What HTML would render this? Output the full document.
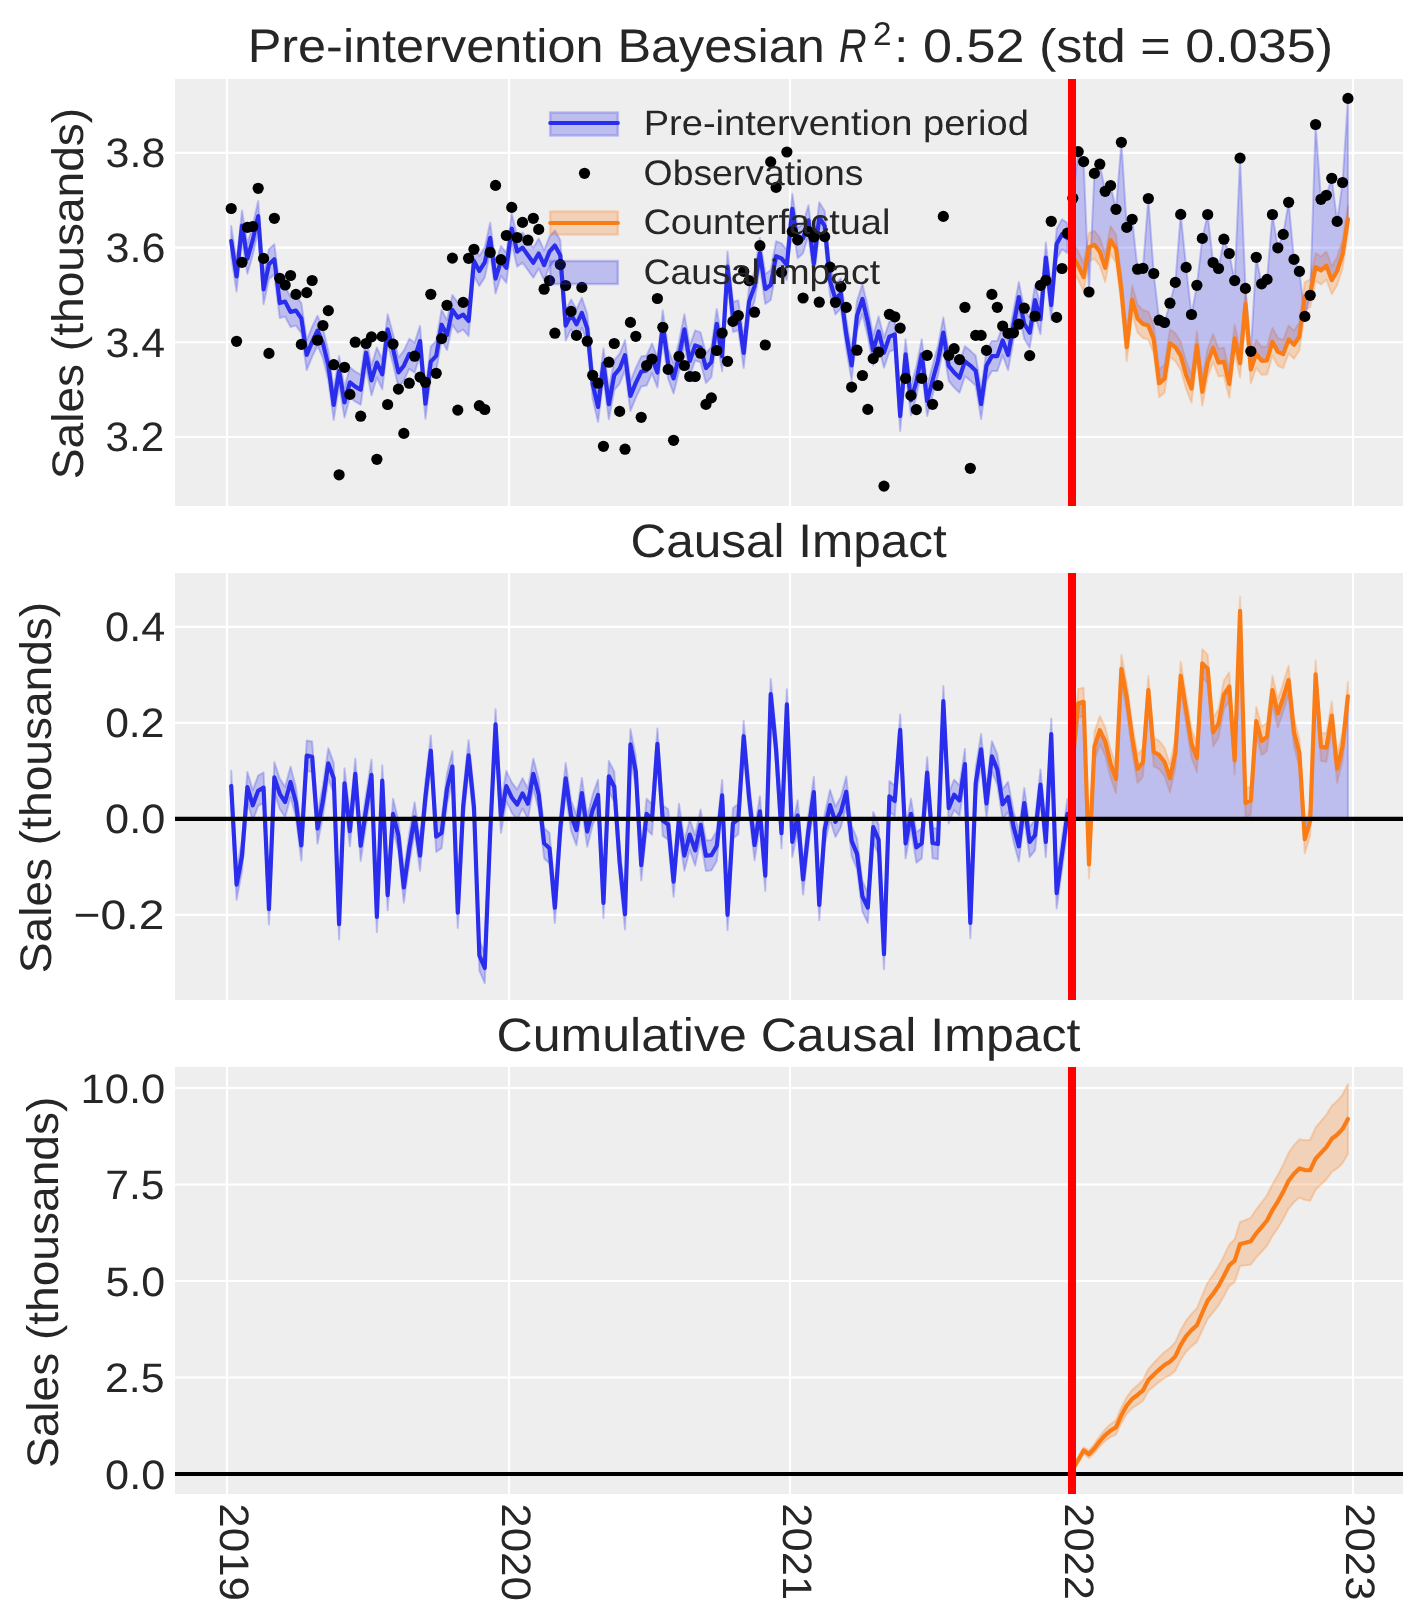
<!DOCTYPE html>
<html><head><meta charset="utf-8"><style>
html,body{margin:0;padding:0;background:#fff;overflow:hidden}
svg{display:block;text-rendering:geometricPrecision;will-change:transform}
</style></head><body>
<svg width="1423" height="1623" viewBox="0 0 1423 1623">
<rect width="1423" height="1623" fill="#ffffff"/>
<rect x="175" y="79" width="1228" height="427" fill="#eeeeee"/>
<line x1="227.0" y1="79" x2="227.0" y2="506" stroke="#fff" stroke-width="2.2"/>
<line x1="509.0" y1="79" x2="509.0" y2="506" stroke="#fff" stroke-width="2.2"/>
<line x1="790.0" y1="79" x2="790.0" y2="506" stroke="#fff" stroke-width="2.2"/>
<line x1="1072.0" y1="79" x2="1072.0" y2="506" stroke="#fff" stroke-width="2.2"/>
<line x1="1353.0" y1="79" x2="1353.0" y2="506" stroke="#fff" stroke-width="2.2"/>
<line x1="175" y1="436.99" x2="1403" y2="436.99" stroke="#fff" stroke-width="2.2"/>
<line x1="175" y1="342.26" x2="1403" y2="342.26" stroke="#fff" stroke-width="2.2"/>
<line x1="175" y1="247.53" x2="1403" y2="247.53" stroke="#fff" stroke-width="2.2"/>
<line x1="175" y1="152.80" x2="1403" y2="152.80" stroke="#fff" stroke-width="2.2"/>
<rect x="175" y="573" width="1228" height="427" fill="#eeeeee"/>
<line x1="227.0" y1="573" x2="227.0" y2="1000" stroke="#fff" stroke-width="2.2"/>
<line x1="509.0" y1="573" x2="509.0" y2="1000" stroke="#fff" stroke-width="2.2"/>
<line x1="790.0" y1="573" x2="790.0" y2="1000" stroke="#fff" stroke-width="2.2"/>
<line x1="1072.0" y1="573" x2="1072.0" y2="1000" stroke="#fff" stroke-width="2.2"/>
<line x1="1353.0" y1="573" x2="1353.0" y2="1000" stroke="#fff" stroke-width="2.2"/>
<line x1="175" y1="914.90" x2="1403" y2="914.90" stroke="#fff" stroke-width="2.2"/>
<line x1="175" y1="818.90" x2="1403" y2="818.90" stroke="#fff" stroke-width="2.2"/>
<line x1="175" y1="722.90" x2="1403" y2="722.90" stroke="#fff" stroke-width="2.2"/>
<line x1="175" y1="626.90" x2="1403" y2="626.90" stroke="#fff" stroke-width="2.2"/>
<rect x="175" y="1067" width="1228" height="427" fill="#eeeeee"/>
<line x1="227.0" y1="1067" x2="227.0" y2="1494" stroke="#fff" stroke-width="2.2"/>
<line x1="509.0" y1="1067" x2="509.0" y2="1494" stroke="#fff" stroke-width="2.2"/>
<line x1="790.0" y1="1067" x2="790.0" y2="1494" stroke="#fff" stroke-width="2.2"/>
<line x1="1072.0" y1="1067" x2="1072.0" y2="1494" stroke="#fff" stroke-width="2.2"/>
<line x1="1353.0" y1="1067" x2="1353.0" y2="1494" stroke="#fff" stroke-width="2.2"/>
<line x1="175" y1="1474.00" x2="1403" y2="1474.00" stroke="#fff" stroke-width="2.2"/>
<line x1="175" y1="1377.50" x2="1403" y2="1377.50" stroke="#fff" stroke-width="2.2"/>
<line x1="175" y1="1281.00" x2="1403" y2="1281.00" stroke="#fff" stroke-width="2.2"/>
<line x1="175" y1="1184.50" x2="1403" y2="1184.50" stroke="#fff" stroke-width="2.2"/>
<line x1="175" y1="1088.00" x2="1403" y2="1088.00" stroke="#fff" stroke-width="2.2"/>
<path d="M231.20,226.00 L236.59,261.50 L241.99,210.50 L247.38,243.80 L252.78,224.90 L258.18,201.10 L263.57,274.30 L268.96,249.30 L274.36,244.30 L279.75,288.10 L285.15,286.60 L290.54,297.00 L295.94,295.60 L301.33,303.20 L306.73,340.00 L312.12,326.80 L317.52,315.70 L322.91,328.20 L328.31,350.40 L333.70,389.90 L339.10,355.90 L344.50,387.40 L349.89,367.30 L355.28,371.60 L360.68,374.70 L366.07,337.70 L371.47,365.40 L376.87,347.60 L382.26,359.30 L387.65,314.30 L393.05,334.00 L398.44,357.40 L403.84,350.70 L409.24,338.90 L414.63,342.60 L420.02,325.90 L425.42,388.70 L430.81,346.60 L436.21,340.80 L441.60,309.70 L447.00,320.10 L452.39,294.90 L457.79,302.60 L463.18,299.60 L468.58,306.00 L473.97,245.90 L479.37,255.90 L484.76,247.40 L490.16,222.80 L495.55,263.60 L500.95,245.90 L506.34,252.80 L511.74,213.50 L517.13,236.60 L522.53,232.60 L527.92,240.20 L533.32,247.70 L538.71,238.50 L544.11,250.20 L549.50,236.60 L554.90,230.50 L560.29,240.30 L565.69,310.60 L571.09,299.50 L576.48,309.30 L581.88,297.80 L587.27,313.70 L592.66,369.10 L598.06,391.90 L603.45,348.50 L608.85,389.30 L614.24,360.20 L619.64,353.70 L625.03,340.10 L630.43,380.90 L635.82,367.90 L641.22,356.60 L646.62,355.50 L652.01,343.40 L657.40,357.60 L662.80,310.60 L668.19,348.90 L673.59,363.40 L678.98,341.40 L684.38,314.30 L689.77,346.00 L695.17,330.40 L700.56,332.40 L705.96,353.00 L711.36,347.10 L716.75,308.90 L722.14,341.30 L727.54,251.50 L732.93,302.00 L738.33,300.30 L743.72,338.00 L749.12,286.40 L754.51,271.40 L759.91,238.10 L765.30,274.00 L770.70,270.00 L776.10,241.20 L781.49,243.40 L786.88,250.00 L792.28,193.80 L797.67,228.30 L803.07,223.30 L808.46,205.30 L813.86,248.50 L819.25,202.30 L824.65,211.00 L830.04,265.80 L835.44,284.40 L840.84,278.50 L846.23,319.20 L851.62,350.40 L857.02,300.70 L862.41,284.00 L867.81,306.80 L873.20,335.50 L878.60,316.50 L883.99,337.70 L889.39,321.60 L894.78,319.50 L900.18,401.00 L905.58,339.30 L910.97,385.40 L916.37,366.50 L921.76,339.30 L927.15,386.10 L932.55,365.50 L937.94,345.70 L943.34,317.60 L948.73,350.90 L954.13,357.50 L959.52,362.70 L964.92,346.30 L970.31,350.60 L975.71,355.80 L981.11,389.10 L986.50,350.60 L991.89,341.10 L997.29,341.10 L1002.68,325.40 L1008.08,340.00 L1013.47,310.40 L1018.87,282.10 L1024.26,308.80 L1029.66,317.80 L1035.05,285.10 L1040.45,304.20 L1045.85,242.60 L1051.24,290.10 L1056.63,229.10 L1062.03,219.20 L1067.42,223.10 L1067.42,253.10 L1062.03,249.20 L1056.63,259.10 L1051.24,320.10 L1045.85,272.60 L1040.45,334.20 L1035.05,315.10 L1029.66,347.80 L1024.26,338.80 L1018.87,312.10 L1013.47,340.40 L1008.08,370.00 L1002.68,355.40 L997.29,371.10 L991.89,371.10 L986.50,380.60 L981.11,419.10 L975.71,385.80 L970.31,380.60 L964.92,376.30 L959.52,392.70 L954.13,387.50 L948.73,380.90 L943.34,347.60 L937.94,375.70 L932.55,395.50 L927.15,416.10 L921.76,369.30 L916.37,396.50 L910.97,415.40 L905.58,369.30 L900.18,431.00 L894.78,349.50 L889.39,351.60 L883.99,367.70 L878.60,346.50 L873.20,365.50 L867.81,336.80 L862.41,314.00 L857.02,330.70 L851.62,380.40 L846.23,349.20 L840.84,308.50 L835.44,314.40 L830.04,295.80 L824.65,241.00 L819.25,232.30 L813.86,278.50 L808.46,235.30 L803.07,253.30 L797.67,258.30 L792.28,223.80 L786.88,280.00 L781.49,273.40 L776.10,271.20 L770.70,300.00 L765.30,304.00 L759.91,268.10 L754.51,301.40 L749.12,316.40 L743.72,368.00 L738.33,330.30 L732.93,332.00 L727.54,281.50 L722.14,371.30 L716.75,338.90 L711.36,377.10 L705.96,383.00 L700.56,362.40 L695.17,360.40 L689.77,376.00 L684.38,344.30 L678.98,371.40 L673.59,393.40 L668.19,378.90 L662.80,340.60 L657.40,387.60 L652.01,373.40 L646.62,385.50 L641.22,386.60 L635.82,397.90 L630.43,410.90 L625.03,370.10 L619.64,383.70 L614.24,390.20 L608.85,419.30 L603.45,378.50 L598.06,421.90 L592.66,399.10 L587.27,343.70 L581.88,327.80 L576.48,339.30 L571.09,329.50 L565.69,340.60 L560.29,270.30 L554.90,260.50 L549.50,266.60 L544.11,280.20 L538.71,268.50 L533.32,277.70 L527.92,270.20 L522.53,262.60 L517.13,266.60 L511.74,243.50 L506.34,282.80 L500.95,275.90 L495.55,293.60 L490.16,252.80 L484.76,277.40 L479.37,285.90 L473.97,275.90 L468.58,336.00 L463.18,329.60 L457.79,332.60 L452.39,324.90 L447.00,350.10 L441.60,339.70 L436.21,370.80 L430.81,376.60 L425.42,418.70 L420.02,355.90 L414.63,372.60 L409.24,368.90 L403.84,380.70 L398.44,387.40 L393.05,364.00 L387.65,344.30 L382.26,389.30 L376.87,377.60 L371.47,395.40 L366.07,367.70 L360.68,404.70 L355.28,401.60 L349.89,397.30 L344.50,417.40 L339.10,385.90 L333.70,419.90 L328.31,380.40 L322.91,358.20 L317.52,345.70 L312.12,356.80 L306.73,370.00 L301.33,333.20 L295.94,325.60 L290.54,327.00 L285.15,316.60 L279.75,318.10 L274.36,274.30 L268.96,279.30 L263.57,304.30 L258.18,231.10 L252.78,254.90 L247.38,273.80 L241.99,240.50 L236.59,291.50 L231.20,256.00 Z" fill="#2a2eec" fill-opacity="0.25" stroke="#2a2eec" stroke-opacity="0.25" stroke-width="2" stroke-linejoin="round"/>
<path d="M1072.82,242.30 L1078.21,251.70 L1083.61,263.10 L1089.00,233.10 L1094.40,230.80 L1099.79,237.70 L1105.19,253.90 L1110.58,226.10 L1115.98,234.60 L1121.38,276.30 L1126.77,333.20 L1132.16,285.80 L1137.56,304.60 L1142.95,310.00 L1148.35,311.60 L1153.74,325.40 L1159.14,369.30 L1164.53,364.70 L1169.93,329.30 L1175.32,333.10 L1180.72,341.70 L1186.12,360.90 L1191.51,374.70 L1196.90,331.40 L1202.30,377.80 L1207.69,348.60 L1213.09,333.90 L1218.48,348.60 L1223.88,347.70 L1229.27,370.10 L1234.67,324.40 L1240.06,349.40 L1245.46,289.90 L1250.86,355.50 L1256.25,339.90 L1261.64,346.80 L1267.04,346.40 L1272.43,327.70 L1277.83,337.80 L1283.22,340.10 L1288.62,325.40 L1294.01,330.80 L1299.41,322.30 L1304.81,282.30 L1310.20,279.20 L1315.60,253.10 L1320.99,256.40 L1326.38,251.60 L1331.78,266.20 L1337.17,257.00 L1342.57,240.10 L1347.96,205.40 L1347.96,233.40 L1342.57,268.10 L1337.17,285.00 L1331.78,294.20 L1326.38,279.60 L1320.99,284.40 L1315.60,281.10 L1310.20,307.20 L1304.81,310.30 L1299.41,350.30 L1294.01,358.80 L1288.62,353.40 L1283.22,368.10 L1277.83,365.80 L1272.43,355.70 L1267.04,374.40 L1261.64,374.80 L1256.25,367.90 L1250.86,383.50 L1245.46,317.90 L1240.06,377.40 L1234.67,352.40 L1229.27,398.10 L1223.88,375.70 L1218.48,376.60 L1213.09,361.90 L1207.69,376.60 L1202.30,405.80 L1196.90,359.40 L1191.51,402.70 L1186.12,388.90 L1180.72,369.70 L1175.32,361.10 L1169.93,357.30 L1164.53,392.70 L1159.14,397.30 L1153.74,353.40 L1148.35,339.60 L1142.95,338.00 L1137.56,332.60 L1132.16,313.80 L1126.77,361.20 L1121.38,304.30 L1115.98,262.60 L1110.58,254.10 L1105.19,281.90 L1099.79,265.70 L1094.40,258.80 L1089.00,261.10 L1083.61,291.10 L1078.21,279.70 L1072.82,270.30 Z" fill="#fa7c17" fill-opacity="0.25" stroke="#fa7c17" stroke-opacity="0.25" stroke-width="2" stroke-linejoin="round"/>
<path d="M1072.82,198.20 L1078.21,151.60 L1083.61,161.60 L1089.00,292.00 L1094.40,173.40 L1099.79,164.20 L1105.19,191.30 L1110.58,185.50 L1115.98,209.30 L1121.38,142.30 L1126.77,227.40 L1132.16,219.30 L1137.56,269.20 L1142.95,268.30 L1148.35,198.50 L1153.74,273.50 L1159.14,320.20 L1164.53,322.50 L1169.93,303.20 L1175.32,282.40 L1180.72,214.40 L1186.12,267.40 L1191.51,314.50 L1196.90,285.30 L1202.30,238.40 L1207.69,214.50 L1213.09,262.50 L1218.48,268.50 L1223.88,239.20 L1229.27,253.50 L1234.67,280.60 L1240.06,158.10 L1245.46,288.40 L1250.86,351.30 L1256.25,257.30 L1261.64,283.80 L1267.04,279.40 L1272.43,214.50 L1277.83,247.80 L1283.22,234.40 L1288.62,202.30 L1294.01,259.40 L1299.41,271.40 L1304.81,316.40 L1310.20,295.30 L1315.60,124.50 L1320.99,199.30 L1326.38,195.30 L1331.78,178.30 L1337.17,221.40 L1342.57,182.50 L1347.96,98.40 L1347.96,219.40 L1342.57,254.10 L1337.17,271.00 L1331.78,280.20 L1326.38,265.60 L1320.99,270.40 L1315.60,267.10 L1310.20,293.20 L1304.81,296.30 L1299.41,336.30 L1294.01,344.80 L1288.62,339.40 L1283.22,354.10 L1277.83,351.80 L1272.43,341.70 L1267.04,360.40 L1261.64,360.80 L1256.25,353.90 L1250.86,369.50 L1245.46,303.90 L1240.06,363.40 L1234.67,338.40 L1229.27,384.10 L1223.88,361.70 L1218.48,362.60 L1213.09,347.90 L1207.69,362.60 L1202.30,391.80 L1196.90,345.40 L1191.51,388.70 L1186.12,374.90 L1180.72,355.70 L1175.32,347.10 L1169.93,343.30 L1164.53,378.70 L1159.14,383.30 L1153.74,339.40 L1148.35,325.60 L1142.95,324.00 L1137.56,318.60 L1132.16,299.80 L1126.77,347.20 L1121.38,290.30 L1115.98,248.60 L1110.58,240.10 L1105.19,267.90 L1099.79,251.70 L1094.40,244.80 L1089.00,247.10 L1083.61,277.10 L1078.21,265.70 L1072.82,256.30 Z" fill="#2a2eec" fill-opacity="0.25" stroke="#2a2eec" stroke-opacity="0.25" stroke-width="2" stroke-linejoin="round"/>
<path d="M231.20,241.00 L236.59,276.50 L241.99,225.50 L247.38,258.80 L252.78,239.90 L258.18,216.10 L263.57,289.30 L268.96,264.30 L274.36,259.30 L279.75,303.10 L285.15,301.60 L290.54,312.00 L295.94,310.60 L301.33,318.20 L306.73,355.00 L312.12,341.80 L317.52,330.70 L322.91,343.20 L328.31,365.40 L333.70,404.90 L339.10,370.90 L344.50,402.40 L349.89,382.30 L355.28,386.60 L360.68,389.70 L366.07,352.70 L371.47,380.40 L376.87,362.60 L382.26,374.30 L387.65,329.30 L393.05,349.00 L398.44,372.40 L403.84,365.70 L409.24,353.90 L414.63,357.60 L420.02,340.90 L425.42,403.70 L430.81,361.60 L436.21,355.80 L441.60,324.70 L447.00,335.10 L452.39,309.90 L457.79,317.60 L463.18,314.60 L468.58,321.00 L473.97,260.90 L479.37,270.90 L484.76,262.40 L490.16,237.80 L495.55,278.60 L500.95,260.90 L506.34,267.80 L511.74,228.50 L517.13,251.60 L522.53,247.60 L527.92,255.20 L533.32,262.70 L538.71,253.50 L544.11,265.20 L549.50,251.60 L554.90,245.50 L560.29,255.30 L565.69,325.60 L571.09,314.50 L576.48,324.30 L581.88,312.80 L587.27,328.70 L592.66,384.10 L598.06,406.90 L603.45,363.50 L608.85,404.30 L614.24,375.20 L619.64,368.70 L625.03,355.10 L630.43,395.90 L635.82,382.90 L641.22,371.60 L646.62,370.50 L652.01,358.40 L657.40,372.60 L662.80,325.60 L668.19,363.90 L673.59,378.40 L678.98,356.40 L684.38,329.30 L689.77,361.00 L695.17,345.40 L700.56,347.40 L705.96,368.00 L711.36,362.10 L716.75,323.90 L722.14,356.30 L727.54,266.50 L732.93,317.00 L738.33,315.30 L743.72,353.00 L749.12,301.40 L754.51,286.40 L759.91,253.10 L765.30,289.00 L770.70,285.00 L776.10,256.20 L781.49,258.40 L786.88,265.00 L792.28,208.80 L797.67,243.30 L803.07,238.30 L808.46,220.30 L813.86,263.50 L819.25,217.30 L824.65,226.00 L830.04,280.80 L835.44,299.40 L840.84,293.50 L846.23,334.20 L851.62,365.40 L857.02,315.70 L862.41,299.00 L867.81,321.80 L873.20,350.50 L878.60,331.50 L883.99,352.70 L889.39,336.60 L894.78,334.50 L900.18,416.00 L905.58,354.30 L910.97,400.40 L916.37,381.50 L921.76,354.30 L927.15,401.10 L932.55,380.50 L937.94,360.70 L943.34,332.60 L948.73,365.90 L954.13,372.50 L959.52,377.70 L964.92,361.30 L970.31,365.60 L975.71,370.80 L981.11,404.10 L986.50,365.60 L991.89,356.10 L997.29,356.10 L1002.68,340.40 L1008.08,355.00 L1013.47,325.40 L1018.87,297.10 L1024.26,323.80 L1029.66,332.80 L1035.05,300.10 L1040.45,319.20 L1045.85,257.60 L1051.24,305.10 L1056.63,244.10 L1062.03,234.20 L1067.42,238.10" fill="none" stroke="#2a2eec" stroke-width="4.17" stroke-linejoin="round" stroke-linecap="round"/>
<circle cx="231.20" cy="208.50" r="5.6" fill="#000"/>
<circle cx="236.59" cy="341.30" r="5.6" fill="#000"/>
<circle cx="241.99" cy="262.30" r="5.6" fill="#000"/>
<circle cx="247.38" cy="227.40" r="5.6" fill="#000"/>
<circle cx="252.78" cy="226.50" r="5.6" fill="#000"/>
<circle cx="258.18" cy="188.30" r="5.6" fill="#000"/>
<circle cx="263.57" cy="258.40" r="5.6" fill="#000"/>
<circle cx="268.96" cy="353.40" r="5.6" fill="#000"/>
<circle cx="274.36" cy="218.30" r="5.6" fill="#000"/>
<circle cx="279.75" cy="278.30" r="5.6" fill="#000"/>
<circle cx="285.15" cy="285.00" r="5.6" fill="#000"/>
<circle cx="290.54" cy="275.50" r="5.6" fill="#000"/>
<circle cx="295.94" cy="294.40" r="5.6" fill="#000"/>
<circle cx="301.33" cy="344.40" r="5.6" fill="#000"/>
<circle cx="306.73" cy="292.60" r="5.6" fill="#000"/>
<circle cx="312.12" cy="280.50" r="5.6" fill="#000"/>
<circle cx="317.52" cy="340.20" r="5.6" fill="#000"/>
<circle cx="322.91" cy="325.50" r="5.6" fill="#000"/>
<circle cx="328.31" cy="310.60" r="5.6" fill="#000"/>
<circle cx="333.70" cy="364.70" r="5.6" fill="#000"/>
<circle cx="339.10" cy="474.80" r="5.6" fill="#000"/>
<circle cx="344.50" cy="367.30" r="5.6" fill="#000"/>
<circle cx="349.89" cy="394.40" r="5.6" fill="#000"/>
<circle cx="355.28" cy="342.20" r="5.6" fill="#000"/>
<circle cx="360.68" cy="416.20" r="5.6" fill="#000"/>
<circle cx="366.07" cy="343.50" r="5.6" fill="#000"/>
<circle cx="371.47" cy="336.90" r="5.6" fill="#000"/>
<circle cx="376.87" cy="459.30" r="5.6" fill="#000"/>
<circle cx="382.26" cy="336.40" r="5.6" fill="#000"/>
<circle cx="387.65" cy="404.50" r="5.6" fill="#000"/>
<circle cx="393.05" cy="344.10" r="5.6" fill="#000"/>
<circle cx="398.44" cy="389.10" r="5.6" fill="#000"/>
<circle cx="403.84" cy="433.40" r="5.6" fill="#000"/>
<circle cx="409.24" cy="383.20" r="5.6" fill="#000"/>
<circle cx="414.63" cy="356.20" r="5.6" fill="#000"/>
<circle cx="420.02" cy="377.10" r="5.6" fill="#000"/>
<circle cx="425.42" cy="382.30" r="5.6" fill="#000"/>
<circle cx="430.81" cy="294.30" r="5.6" fill="#000"/>
<circle cx="436.21" cy="373.30" r="5.6" fill="#000"/>
<circle cx="441.60" cy="338.60" r="5.6" fill="#000"/>
<circle cx="447.00" cy="305.30" r="5.6" fill="#000"/>
<circle cx="452.39" cy="258.10" r="5.6" fill="#000"/>
<circle cx="457.79" cy="410.10" r="5.6" fill="#000"/>
<circle cx="463.18" cy="302.40" r="5.6" fill="#000"/>
<circle cx="468.58" cy="258.30" r="5.6" fill="#000"/>
<circle cx="473.97" cy="249.30" r="5.6" fill="#000"/>
<circle cx="479.37" cy="405.70" r="5.6" fill="#000"/>
<circle cx="484.76" cy="409.50" r="5.6" fill="#000"/>
<circle cx="490.16" cy="252.40" r="5.6" fill="#000"/>
<circle cx="495.55" cy="185.40" r="5.6" fill="#000"/>
<circle cx="500.95" cy="259.60" r="5.6" fill="#000"/>
<circle cx="506.34" cy="235.50" r="5.6" fill="#000"/>
<circle cx="511.74" cy="207.40" r="5.6" fill="#000"/>
<circle cx="517.13" cy="237.50" r="5.6" fill="#000"/>
<circle cx="522.53" cy="222.40" r="5.6" fill="#000"/>
<circle cx="527.92" cy="240.20" r="5.6" fill="#000"/>
<circle cx="533.32" cy="218.30" r="5.6" fill="#000"/>
<circle cx="538.71" cy="229.40" r="5.6" fill="#000"/>
<circle cx="544.11" cy="289.20" r="5.6" fill="#000"/>
<circle cx="549.50" cy="280.60" r="5.6" fill="#000"/>
<circle cx="554.90" cy="333.20" r="5.6" fill="#000"/>
<circle cx="560.29" cy="264.60" r="5.6" fill="#000"/>
<circle cx="565.69" cy="285.50" r="5.6" fill="#000"/>
<circle cx="571.09" cy="311.40" r="5.6" fill="#000"/>
<circle cx="576.48" cy="335.40" r="5.6" fill="#000"/>
<circle cx="581.88" cy="287.40" r="5.6" fill="#000"/>
<circle cx="587.27" cy="341.20" r="5.6" fill="#000"/>
<circle cx="592.66" cy="375.30" r="5.6" fill="#000"/>
<circle cx="598.06" cy="383.20" r="5.6" fill="#000"/>
<circle cx="603.45" cy="446.30" r="5.6" fill="#000"/>
<circle cx="608.85" cy="362.20" r="5.6" fill="#000"/>
<circle cx="614.24" cy="343.50" r="5.6" fill="#000"/>
<circle cx="619.64" cy="411.40" r="5.6" fill="#000"/>
<circle cx="625.03" cy="449.20" r="5.6" fill="#000"/>
<circle cx="630.43" cy="322.40" r="5.6" fill="#000"/>
<circle cx="635.82" cy="336.30" r="5.6" fill="#000"/>
<circle cx="641.22" cy="417.30" r="5.6" fill="#000"/>
<circle cx="646.62" cy="365.50" r="5.6" fill="#000"/>
<circle cx="652.01" cy="359.00" r="5.6" fill="#000"/>
<circle cx="657.40" cy="298.50" r="5.6" fill="#000"/>
<circle cx="662.80" cy="327.30" r="5.6" fill="#000"/>
<circle cx="668.19" cy="369.40" r="5.6" fill="#000"/>
<circle cx="673.59" cy="440.30" r="5.6" fill="#000"/>
<circle cx="678.98" cy="356.40" r="5.6" fill="#000"/>
<circle cx="684.38" cy="365.50" r="5.6" fill="#000"/>
<circle cx="689.77" cy="376.50" r="5.6" fill="#000"/>
<circle cx="695.17" cy="376.50" r="5.6" fill="#000"/>
<circle cx="700.56" cy="353.20" r="5.6" fill="#000"/>
<circle cx="705.96" cy="404.40" r="5.6" fill="#000"/>
<circle cx="711.36" cy="397.90" r="5.6" fill="#000"/>
<circle cx="716.75" cy="350.50" r="5.6" fill="#000"/>
<circle cx="722.14" cy="333.00" r="5.6" fill="#000"/>
<circle cx="727.54" cy="361.30" r="5.6" fill="#000"/>
<circle cx="732.93" cy="321.40" r="5.6" fill="#000"/>
<circle cx="738.33" cy="315.50" r="5.6" fill="#000"/>
<circle cx="743.72" cy="271.40" r="5.6" fill="#000"/>
<circle cx="749.12" cy="280.60" r="5.6" fill="#000"/>
<circle cx="754.51" cy="312.20" r="5.6" fill="#000"/>
<circle cx="759.91" cy="245.70" r="5.6" fill="#000"/>
<circle cx="765.30" cy="345.00" r="5.6" fill="#000"/>
<circle cx="770.70" cy="161.90" r="5.6" fill="#000"/>
<circle cx="776.10" cy="187.40" r="5.6" fill="#000"/>
<circle cx="781.49" cy="272.40" r="5.6" fill="#000"/>
<circle cx="786.88" cy="152.00" r="5.6" fill="#000"/>
<circle cx="792.28" cy="231.50" r="5.6" fill="#000"/>
<circle cx="797.67" cy="239.90" r="5.6" fill="#000"/>
<circle cx="803.07" cy="298.00" r="5.6" fill="#000"/>
<circle cx="808.46" cy="231.50" r="5.6" fill="#000"/>
<circle cx="813.86" cy="237.00" r="5.6" fill="#000"/>
<circle cx="819.25" cy="302.20" r="5.6" fill="#000"/>
<circle cx="824.65" cy="236.60" r="5.6" fill="#000"/>
<circle cx="830.04" cy="267.10" r="5.6" fill="#000"/>
<circle cx="835.44" cy="302.30" r="5.6" fill="#000"/>
<circle cx="840.84" cy="286.80" r="5.6" fill="#000"/>
<circle cx="846.23" cy="307.40" r="5.6" fill="#000"/>
<circle cx="851.62" cy="387.10" r="5.6" fill="#000"/>
<circle cx="857.02" cy="350.20" r="5.6" fill="#000"/>
<circle cx="862.41" cy="375.50" r="5.6" fill="#000"/>
<circle cx="867.81" cy="409.40" r="5.6" fill="#000"/>
<circle cx="873.20" cy="358.60" r="5.6" fill="#000"/>
<circle cx="878.60" cy="352.10" r="5.6" fill="#000"/>
<circle cx="883.99" cy="486.10" r="5.6" fill="#000"/>
<circle cx="889.39" cy="314.30" r="5.6" fill="#000"/>
<circle cx="894.78" cy="316.80" r="5.6" fill="#000"/>
<circle cx="900.18" cy="328.10" r="5.6" fill="#000"/>
<circle cx="905.58" cy="378.40" r="5.6" fill="#000"/>
<circle cx="910.97" cy="395.40" r="5.6" fill="#000"/>
<circle cx="916.37" cy="409.60" r="5.6" fill="#000"/>
<circle cx="921.76" cy="378.40" r="5.6" fill="#000"/>
<circle cx="927.15" cy="355.30" r="5.6" fill="#000"/>
<circle cx="932.55" cy="404.30" r="5.6" fill="#000"/>
<circle cx="937.94" cy="385.50" r="5.6" fill="#000"/>
<circle cx="943.34" cy="216.40" r="5.6" fill="#000"/>
<circle cx="948.73" cy="355.30" r="5.6" fill="#000"/>
<circle cx="954.13" cy="348.70" r="5.6" fill="#000"/>
<circle cx="959.52" cy="359.60" r="5.6" fill="#000"/>
<circle cx="964.92" cy="307.30" r="5.6" fill="#000"/>
<circle cx="970.31" cy="468.30" r="5.6" fill="#000"/>
<circle cx="975.71" cy="335.40" r="5.6" fill="#000"/>
<circle cx="981.11" cy="335.40" r="5.6" fill="#000"/>
<circle cx="986.50" cy="350.40" r="5.6" fill="#000"/>
<circle cx="991.89" cy="294.40" r="5.6" fill="#000"/>
<circle cx="997.29" cy="307.30" r="5.6" fill="#000"/>
<circle cx="1002.68" cy="326.00" r="5.6" fill="#000"/>
<circle cx="1008.08" cy="333.40" r="5.6" fill="#000"/>
<circle cx="1013.47" cy="332.80" r="5.6" fill="#000"/>
<circle cx="1018.87" cy="324.20" r="5.6" fill="#000"/>
<circle cx="1024.26" cy="308.20" r="5.6" fill="#000"/>
<circle cx="1029.66" cy="355.60" r="5.6" fill="#000"/>
<circle cx="1035.05" cy="316.20" r="5.6" fill="#000"/>
<circle cx="1040.45" cy="285.40" r="5.6" fill="#000"/>
<circle cx="1045.85" cy="280.40" r="5.6" fill="#000"/>
<circle cx="1051.24" cy="221.30" r="5.6" fill="#000"/>
<circle cx="1056.63" cy="317.40" r="5.6" fill="#000"/>
<circle cx="1062.03" cy="268.50" r="5.6" fill="#000"/>
<circle cx="1067.42" cy="233.20" r="5.6" fill="#000"/>
<path d="M1072.82,256.30 L1078.21,265.70 L1083.61,277.10 L1089.00,247.10 L1094.40,244.80 L1099.79,251.70 L1105.19,267.90 L1110.58,240.10 L1115.98,248.60 L1121.38,290.30 L1126.77,347.20 L1132.16,299.80 L1137.56,318.60 L1142.95,324.00 L1148.35,325.60 L1153.74,339.40 L1159.14,383.30 L1164.53,378.70 L1169.93,343.30 L1175.32,347.10 L1180.72,355.70 L1186.12,374.90 L1191.51,388.70 L1196.90,345.40 L1202.30,391.80 L1207.69,362.60 L1213.09,347.90 L1218.48,362.60 L1223.88,361.70 L1229.27,384.10 L1234.67,338.40 L1240.06,363.40 L1245.46,303.90 L1250.86,369.50 L1256.25,353.90 L1261.64,360.80 L1267.04,360.40 L1272.43,341.70 L1277.83,351.80 L1283.22,354.10 L1288.62,339.40 L1294.01,344.80 L1299.41,336.30 L1304.81,296.30 L1310.20,293.20 L1315.60,267.10 L1320.99,270.40 L1326.38,265.60 L1331.78,280.20 L1337.17,271.00 L1342.57,254.10 L1347.96,219.40" fill="none" stroke="#fa7c17" stroke-width="4.17" stroke-linejoin="round" stroke-linecap="round"/>
<circle cx="1072.82" cy="198.20" r="5.6" fill="#000"/>
<circle cx="1078.21" cy="151.60" r="5.6" fill="#000"/>
<circle cx="1083.61" cy="161.60" r="5.6" fill="#000"/>
<circle cx="1089.00" cy="292.00" r="5.6" fill="#000"/>
<circle cx="1094.40" cy="173.40" r="5.6" fill="#000"/>
<circle cx="1099.79" cy="164.20" r="5.6" fill="#000"/>
<circle cx="1105.19" cy="191.30" r="5.6" fill="#000"/>
<circle cx="1110.58" cy="185.50" r="5.6" fill="#000"/>
<circle cx="1115.98" cy="209.30" r="5.6" fill="#000"/>
<circle cx="1121.38" cy="142.30" r="5.6" fill="#000"/>
<circle cx="1126.77" cy="227.40" r="5.6" fill="#000"/>
<circle cx="1132.16" cy="219.30" r="5.6" fill="#000"/>
<circle cx="1137.56" cy="269.20" r="5.6" fill="#000"/>
<circle cx="1142.95" cy="268.30" r="5.6" fill="#000"/>
<circle cx="1148.35" cy="198.50" r="5.6" fill="#000"/>
<circle cx="1153.74" cy="273.50" r="5.6" fill="#000"/>
<circle cx="1159.14" cy="320.20" r="5.6" fill="#000"/>
<circle cx="1164.53" cy="322.50" r="5.6" fill="#000"/>
<circle cx="1169.93" cy="303.20" r="5.6" fill="#000"/>
<circle cx="1175.32" cy="282.40" r="5.6" fill="#000"/>
<circle cx="1180.72" cy="214.40" r="5.6" fill="#000"/>
<circle cx="1186.12" cy="267.40" r="5.6" fill="#000"/>
<circle cx="1191.51" cy="314.50" r="5.6" fill="#000"/>
<circle cx="1196.90" cy="285.30" r="5.6" fill="#000"/>
<circle cx="1202.30" cy="238.40" r="5.6" fill="#000"/>
<circle cx="1207.69" cy="214.50" r="5.6" fill="#000"/>
<circle cx="1213.09" cy="262.50" r="5.6" fill="#000"/>
<circle cx="1218.48" cy="268.50" r="5.6" fill="#000"/>
<circle cx="1223.88" cy="239.20" r="5.6" fill="#000"/>
<circle cx="1229.27" cy="253.50" r="5.6" fill="#000"/>
<circle cx="1234.67" cy="280.60" r="5.6" fill="#000"/>
<circle cx="1240.06" cy="158.10" r="5.6" fill="#000"/>
<circle cx="1245.46" cy="288.40" r="5.6" fill="#000"/>
<circle cx="1250.86" cy="351.30" r="5.6" fill="#000"/>
<circle cx="1256.25" cy="257.30" r="5.6" fill="#000"/>
<circle cx="1261.64" cy="283.80" r="5.6" fill="#000"/>
<circle cx="1267.04" cy="279.40" r="5.6" fill="#000"/>
<circle cx="1272.43" cy="214.50" r="5.6" fill="#000"/>
<circle cx="1277.83" cy="247.80" r="5.6" fill="#000"/>
<circle cx="1283.22" cy="234.40" r="5.6" fill="#000"/>
<circle cx="1288.62" cy="202.30" r="5.6" fill="#000"/>
<circle cx="1294.01" cy="259.40" r="5.6" fill="#000"/>
<circle cx="1299.41" cy="271.40" r="5.6" fill="#000"/>
<circle cx="1304.81" cy="316.40" r="5.6" fill="#000"/>
<circle cx="1310.20" cy="295.30" r="5.6" fill="#000"/>
<circle cx="1315.60" cy="124.50" r="5.6" fill="#000"/>
<circle cx="1320.99" cy="199.30" r="5.6" fill="#000"/>
<circle cx="1326.38" cy="195.30" r="5.6" fill="#000"/>
<circle cx="1331.78" cy="178.30" r="5.6" fill="#000"/>
<circle cx="1337.17" cy="221.40" r="5.6" fill="#000"/>
<circle cx="1342.57" cy="182.50" r="5.6" fill="#000"/>
<circle cx="1347.96" cy="98.40" r="5.6" fill="#000"/>
<path d="M231.20,770.76 L236.59,869.37 L241.99,840.99 L247.38,771.88 L252.78,790.12 L258.18,775.53 L263.57,772.38 L268.96,893.99 L274.36,762.15 L279.75,778.57 L285.15,786.88 L290.54,766.71 L295.94,787.28 L301.33,830.25 L306.73,740.46 L312.12,741.58 L317.52,813.33 L322.91,785.76 L328.31,748.16 L333.70,762.96 L339.10,908.99 L344.50,768.13 L349.89,815.96 L355.28,758.70 L360.68,830.55 L366.07,794.38 L371.47,759.62 L376.87,901.70 L382.26,765.29 L387.65,879.91 L393.05,798.73 L398.44,820.62 L403.84,872.31 L409.24,833.39 L414.63,802.28 L420.02,840.38 L425.42,782.01 L430.81,735.50 L436.21,821.43 L441.60,817.79 L447.00,773.50 L452.39,751.20 L457.79,897.44 L463.18,791.34 L468.58,740.16 L473.97,791.94 L479.37,940.31 L484.76,952.77 L490.16,818.49 L495.55,709.25 L500.95,802.38 L506.34,770.97 L511.74,782.32 L517.13,789.41 L522.53,778.16 L527.92,788.50 L533.32,758.70 L538.71,779.28 L544.11,828.02 L549.50,833.09 L554.90,892.57 L560.29,813.12 L565.69,763.06 L571.09,800.56 L576.48,814.95 L581.88,777.96 L587.27,816.37 L592.66,794.78 L598.06,779.68 L603.45,887.61 L608.85,761.03 L614.24,771.57 L619.64,846.97 L625.03,899.06 L630.43,729.21 L635.82,756.47 L641.22,850.01 L646.62,798.63 L652.01,804.31 L657.40,728.61 L662.80,805.42 L668.19,809.27 L673.59,866.43 L678.98,803.70 L684.38,840.38 L689.77,819.41 L695.17,835.22 L700.56,809.58 L705.96,840.59 L711.36,839.98 L716.75,830.66 L722.14,780.09 L727.54,899.77 L732.93,808.16 L738.33,803.90 L743.72,721.00 L749.12,782.62 L754.51,829.84 L759.91,796.20 L765.30,860.45 L770.70,678.95 L776.10,733.98 L781.49,817.89 L786.88,689.18 L792.28,826.70 L797.67,800.25 L803.07,864.20 L808.46,815.05 L813.86,776.84 L819.25,889.74 L824.65,814.44 L830.04,789.82 L835.44,806.64 L840.84,796.91 L846.23,776.54 L851.62,825.69 L857.02,838.66 L862.41,881.22 L867.81,892.47 L873.20,811.91 L878.60,824.58 L883.99,938.89 L889.39,781.10 L894.78,785.76 L900.18,714.62 L905.58,828.12 L910.97,798.63 L916.37,832.18 L921.76,828.12 L927.15,757.28 L932.55,827.82 L937.94,828.83 L943.34,685.94 L948.73,792.96 L954.13,779.58 L959.52,785.36 L964.92,748.97 L970.31,907.78 L975.71,767.82 L981.11,734.08 L986.50,788.30 L991.89,741.17 L997.29,754.24 L1002.68,789.11 L1008.08,781.81 L1013.47,811.20 L1018.87,831.16 L1024.26,787.89 L1029.66,826.80 L1035.05,820.01 L1040.45,769.45 L1045.85,826.80 L1051.24,718.78 L1056.63,877.98 L1062.03,838.46 L1067.42,798.73 L1067.42,829.14 L1062.03,868.86 L1056.63,908.38 L1051.24,749.18 L1045.85,857.21 L1040.45,799.85 L1035.05,850.42 L1029.66,857.21 L1024.26,818.29 L1018.87,861.56 L1013.47,841.60 L1008.08,812.21 L1002.68,819.51 L997.29,784.65 L991.89,771.57 L986.50,818.70 L981.11,764.48 L975.71,798.23 L970.31,938.18 L964.92,779.38 L959.52,815.76 L954.13,809.98 L948.73,823.36 L943.34,716.34 L937.94,859.23 L932.55,858.22 L927.15,787.69 L921.76,858.52 L916.37,862.58 L910.97,829.03 L905.58,858.52 L900.18,745.02 L894.78,816.16 L889.39,811.50 L883.99,969.29 L878.60,854.98 L873.20,842.31 L867.81,922.88 L862.41,911.63 L857.02,869.06 L851.62,856.09 L846.23,806.94 L840.84,827.31 L835.44,837.04 L830.04,820.22 L824.65,844.84 L819.25,920.14 L813.86,807.25 L808.46,845.45 L803.07,894.60 L797.67,830.66 L792.28,857.11 L786.88,719.59 L781.49,848.29 L776.10,764.38 L770.70,709.35 L765.30,890.85 L759.91,826.60 L754.51,860.25 L749.12,813.02 L743.72,751.41 L738.33,834.30 L732.93,838.56 L727.54,930.17 L722.14,810.49 L716.75,861.06 L711.36,870.38 L705.96,870.99 L700.56,839.98 L695.17,865.62 L689.77,849.81 L684.38,870.79 L678.98,834.10 L673.59,896.83 L668.19,839.67 L662.80,835.82 L657.40,759.01 L652.01,834.71 L646.62,829.03 L641.22,880.41 L635.82,786.88 L630.43,759.62 L625.03,929.46 L619.64,877.37 L614.24,801.98 L608.85,791.44 L603.45,918.01 L598.06,810.08 L592.66,825.18 L587.27,846.77 L581.88,808.36 L576.48,845.35 L571.09,830.96 L565.69,793.46 L560.29,843.53 L554.90,922.98 L549.50,863.49 L544.11,858.42 L538.71,809.68 L533.32,789.11 L527.92,818.90 L522.53,808.56 L517.13,819.81 L511.74,812.72 L506.34,801.37 L500.95,832.78 L495.55,739.65 L490.16,848.90 L484.76,983.17 L479.37,970.71 L473.97,822.35 L468.58,770.56 L463.18,821.74 L457.79,927.84 L452.39,781.61 L447.00,803.90 L441.60,848.19 L436.21,851.84 L430.81,765.90 L425.42,812.41 L420.02,870.79 L414.63,832.68 L409.24,863.79 L403.84,902.71 L398.44,851.02 L393.05,829.14 L387.65,910.31 L382.26,795.69 L376.87,932.10 L371.47,790.02 L366.07,824.78 L360.68,860.96 L355.28,789.11 L349.89,846.36 L344.50,798.53 L339.10,939.39 L333.70,793.36 L328.31,778.57 L322.91,816.16 L317.52,843.73 L312.12,771.98 L306.73,770.86 L301.33,860.65 L295.94,817.68 L290.54,797.11 L285.15,817.28 L279.75,808.97 L274.36,792.55 L268.96,924.40 L263.57,802.79 L258.18,805.93 L252.78,820.52 L247.38,802.28 L241.99,871.39 L236.59,899.77 L231.20,801.17 Z" fill="#2a2eec" fill-opacity="0.25" stroke="#2a2eec" stroke-opacity="0.25" stroke-width="2" stroke-linejoin="round"/>
<path d="M1072.82,745.83 L1078.21,689.08 L1083.61,687.66 L1089.00,850.21 L1094.40,732.36 L1099.79,716.04 L1105.19,727.09 L1110.58,749.38 L1115.98,764.89 L1121.38,654.73 L1126.77,683.31 L1132.16,723.13 L1137.56,754.65 L1142.95,748.27 L1148.35,675.91 L1153.74,737.93 L1159.14,740.77 L1164.53,747.76 L1169.93,764.07 L1175.32,739.14 L1180.72,661.52 L1186.12,695.77 L1191.51,729.52 L1196.90,743.81 L1202.30,649.26 L1207.69,654.63 L1213.09,718.17 L1218.48,709.35 L1223.88,680.57 L1229.27,672.36 L1234.67,746.14 L1240.06,596.66 L1245.46,789.00 L1250.86,786.27 L1256.25,706.82 L1261.64,726.68 L1267.04,722.63 L1272.43,675.81 L1277.83,699.32 L1283.22,683.41 L1288.62,665.77 L1294.01,718.17 L1299.41,738.94 L1304.81,825.08 L1310.20,806.84 L1315.60,660.20 L1320.99,732.66 L1326.38,733.47 L1331.78,701.45 L1337.17,754.45 L1342.57,732.15 L1347.96,682.09 L1347.96,710.47 L1342.57,760.53 L1337.17,782.82 L1331.78,729.82 L1326.38,761.85 L1320.99,761.03 L1315.60,688.58 L1310.20,835.22 L1304.81,853.46 L1299.41,767.32 L1294.01,746.54 L1288.62,694.15 L1283.22,711.78 L1277.83,727.69 L1272.43,704.18 L1267.04,751.00 L1261.64,755.06 L1256.25,735.19 L1250.86,814.64 L1245.46,817.38 L1240.06,625.04 L1234.67,774.51 L1229.27,700.74 L1223.88,708.95 L1218.48,737.73 L1213.09,746.54 L1207.69,683.00 L1202.30,677.63 L1196.90,772.18 L1191.51,757.89 L1186.12,724.15 L1180.72,689.89 L1175.32,767.52 L1169.93,792.45 L1164.53,776.13 L1159.14,769.14 L1153.74,766.30 L1148.35,704.28 L1142.95,776.64 L1137.56,783.03 L1132.16,751.51 L1126.77,711.68 L1121.38,683.10 L1115.98,793.26 L1110.58,777.76 L1105.19,755.46 L1099.79,744.41 L1094.40,760.73 L1089.00,878.59 L1083.61,716.04 L1078.21,717.46 L1072.82,774.21 Z" fill="#fa7c17" fill-opacity="0.25" stroke="#fa7c17" stroke-opacity="0.25" stroke-width="2" stroke-linejoin="round"/>
<path d="M1072.82,760.02 L1078.21,703.27 L1083.61,701.85 L1089.00,864.40 L1094.40,746.54 L1099.79,730.23 L1105.19,741.27 L1110.58,763.57 L1115.98,779.07 L1121.38,668.92 L1126.77,697.49 L1132.16,737.32 L1137.56,768.84 L1142.95,762.45 L1148.35,690.10 L1153.74,752.12 L1159.14,754.95 L1164.53,761.95 L1169.93,778.26 L1175.32,753.33 L1180.72,675.71 L1186.12,709.96 L1191.51,743.71 L1196.90,757.99 L1202.30,663.44 L1207.69,668.81 L1213.09,732.36 L1218.48,723.54 L1223.88,694.76 L1229.27,686.55 L1234.67,760.33 L1240.06,610.85 L1245.46,803.19 L1250.86,800.46 L1256.25,721.00 L1261.64,740.87 L1267.04,736.81 L1272.43,689.99 L1277.83,713.51 L1283.22,697.60 L1288.62,679.96 L1294.01,732.36 L1299.41,753.13 L1304.81,839.27 L1310.20,821.03 L1315.60,674.39 L1320.99,746.85 L1326.38,747.66 L1331.78,715.63 L1337.17,768.64 L1342.57,746.34 L1347.96,696.28 L1347.96,818.90 L1342.57,818.90 L1337.17,818.90 L1331.78,818.90 L1326.38,818.90 L1320.99,818.90 L1315.60,818.90 L1310.20,818.90 L1304.81,818.90 L1299.41,818.90 L1294.01,818.90 L1288.62,818.90 L1283.22,818.90 L1277.83,818.90 L1272.43,818.90 L1267.04,818.90 L1261.64,818.90 L1256.25,818.90 L1250.86,818.90 L1245.46,818.90 L1240.06,818.90 L1234.67,818.90 L1229.27,818.90 L1223.88,818.90 L1218.48,818.90 L1213.09,818.90 L1207.69,818.90 L1202.30,818.90 L1196.90,818.90 L1191.51,818.90 L1186.12,818.90 L1180.72,818.90 L1175.32,818.90 L1169.93,818.90 L1164.53,818.90 L1159.14,818.90 L1153.74,818.90 L1148.35,818.90 L1142.95,818.90 L1137.56,818.90 L1132.16,818.90 L1126.77,818.90 L1121.38,818.90 L1115.98,818.90 L1110.58,818.90 L1105.19,818.90 L1099.79,818.90 L1094.40,818.90 L1089.00,818.90 L1083.61,818.90 L1078.21,818.90 L1072.82,818.90 Z" fill="#2a2eec" fill-opacity="0.25" stroke="#2a2eec" stroke-opacity="0.25" stroke-width="2" stroke-linejoin="round"/>
<path d="M231.20,785.96 L236.59,884.57 L241.99,856.19 L247.38,787.08 L252.78,805.32 L258.18,790.73 L263.57,787.59 L268.96,909.19 L274.36,777.35 L279.75,793.77 L285.15,802.08 L290.54,781.91 L295.94,802.48 L301.33,845.45 L306.73,755.66 L312.12,756.78 L317.52,828.53 L322.91,800.96 L328.31,763.37 L333.70,778.16 L339.10,924.19 L344.50,783.33 L349.89,831.16 L355.28,773.90 L360.68,845.76 L366.07,809.58 L371.47,774.82 L376.87,916.90 L382.26,780.49 L387.65,895.11 L393.05,813.93 L398.44,835.82 L403.84,887.51 L409.24,848.59 L414.63,817.48 L420.02,855.59 L425.42,797.21 L430.81,750.70 L436.21,836.63 L441.60,832.99 L447.00,788.70 L452.39,766.41 L457.79,912.64 L463.18,806.54 L468.58,755.36 L473.97,807.14 L479.37,955.51 L484.76,967.97 L490.16,833.70 L495.55,724.45 L500.95,817.58 L506.34,786.17 L511.74,797.52 L517.13,804.61 L522.53,793.36 L527.92,803.70 L533.32,773.90 L538.71,794.48 L544.11,843.22 L549.50,848.29 L554.90,907.78 L560.29,828.32 L565.69,778.26 L571.09,815.76 L576.48,830.15 L581.88,793.16 L587.27,831.57 L592.66,809.98 L598.06,794.88 L603.45,902.81 L608.85,776.24 L614.24,786.78 L619.64,862.17 L625.03,914.26 L630.43,744.41 L635.82,771.68 L641.22,865.21 L646.62,813.83 L652.01,819.51 L657.40,743.81 L662.80,820.62 L668.19,824.47 L673.59,881.63 L678.98,818.90 L684.38,855.59 L689.77,834.61 L695.17,850.42 L700.56,824.78 L705.96,855.79 L711.36,855.18 L716.75,845.86 L722.14,795.29 L727.54,914.97 L732.93,823.36 L738.33,819.10 L743.72,736.21 L749.12,797.82 L754.51,845.05 L759.91,811.40 L765.30,875.65 L770.70,694.15 L776.10,749.18 L781.49,833.09 L786.88,704.39 L792.28,841.90 L797.67,815.45 L803.07,879.40 L808.46,830.25 L813.86,792.04 L819.25,904.94 L824.65,829.64 L830.04,805.02 L835.44,821.84 L840.84,812.11 L846.23,791.74 L851.62,840.89 L857.02,853.86 L862.41,896.43 L867.81,907.67 L873.20,827.11 L878.60,839.78 L883.99,954.09 L889.39,796.30 L894.78,800.96 L900.18,729.82 L905.58,843.32 L910.97,813.83 L916.37,847.38 L921.76,843.32 L927.15,772.49 L932.55,843.02 L937.94,844.03 L943.34,701.14 L948.73,808.16 L954.13,794.78 L959.52,800.56 L964.92,764.18 L970.31,922.98 L975.71,783.03 L981.11,749.28 L986.50,803.50 L991.89,756.37 L997.29,769.45 L1002.68,804.31 L1008.08,797.01 L1013.47,826.40 L1018.87,846.36 L1024.26,803.09 L1029.66,842.01 L1035.05,835.22 L1040.45,784.65 L1045.85,842.01 L1051.24,733.98 L1056.63,893.18 L1062.03,853.66 L1067.42,813.93" fill="none" stroke="#2a2eec" stroke-width="4.17" stroke-linejoin="round" stroke-linecap="round"/>
<path d="M1072.82,760.02 L1078.21,703.27 L1083.61,701.85 L1089.00,864.40 L1094.40,746.54 L1099.79,730.23 L1105.19,741.27 L1110.58,763.57 L1115.98,779.07 L1121.38,668.92 L1126.77,697.49 L1132.16,737.32 L1137.56,768.84 L1142.95,762.45 L1148.35,690.10 L1153.74,752.12 L1159.14,754.95 L1164.53,761.95 L1169.93,778.26 L1175.32,753.33 L1180.72,675.71 L1186.12,709.96 L1191.51,743.71 L1196.90,757.99 L1202.30,663.44 L1207.69,668.81 L1213.09,732.36 L1218.48,723.54 L1223.88,694.76 L1229.27,686.55 L1234.67,760.33 L1240.06,610.85 L1245.46,803.19 L1250.86,800.46 L1256.25,721.00 L1261.64,740.87 L1267.04,736.81 L1272.43,689.99 L1277.83,713.51 L1283.22,697.60 L1288.62,679.96 L1294.01,732.36 L1299.41,753.13 L1304.81,839.27 L1310.20,821.03 L1315.60,674.39 L1320.99,746.85 L1326.38,747.66 L1331.78,715.63 L1337.17,768.64 L1342.57,746.34 L1347.96,696.28" fill="none" stroke="#fa7c17" stroke-width="4.17" stroke-linejoin="round" stroke-linecap="round"/>
<line x1="175" y1="818.90" x2="1403" y2="818.90" stroke="#000" stroke-width="4.17"/>
<path d="M1072.82,1467.27 L1078.21,1457.32 L1083.61,1447.26 L1089.00,1450.27 L1094.40,1443.81 L1099.79,1436.03 L1105.19,1429.14 L1110.58,1424.04 L1115.98,1420.19 L1121.38,1407.48 L1126.77,1397.07 L1132.16,1389.87 L1137.56,1385.19 L1142.95,1380.01 L1148.35,1369.00 L1153.74,1362.98 L1159.14,1357.20 L1164.53,1351.97 L1169.93,1348.05 L1175.32,1342.13 L1180.72,1329.97 L1186.12,1320.56 L1191.51,1313.87 L1196.90,1308.32 L1202.30,1295.18 L1207.69,1282.46 L1213.09,1274.85 L1218.48,1266.54 L1223.88,1255.91 L1229.27,1244.62 L1234.67,1239.26 L1240.06,1221.88 L1245.46,1219.97 L1250.86,1217.84 L1256.25,1209.32 L1261.64,1202.40 L1267.04,1195.15 L1272.43,1184.14 L1277.83,1175.02 L1283.22,1164.61 L1288.62,1152.79 L1294.01,1145.19 L1299.41,1139.25 L1304.81,1140.24 L1310.20,1139.77 L1315.60,1127.50 L1320.99,1121.06 L1326.38,1114.68 L1331.78,1105.73 L1337.17,1101.04 L1342.57,1094.56 L1347.96,1084.05 L1347.96,1154.05 L1342.57,1163.26 L1337.17,1168.45 L1331.78,1171.85 L1326.38,1179.50 L1320.99,1184.59 L1315.60,1189.73 L1310.20,1200.71 L1304.81,1199.89 L1299.41,1197.60 L1294.01,1202.25 L1288.62,1208.56 L1283.22,1219.08 L1277.83,1228.19 L1272.43,1236.02 L1267.04,1245.74 L1261.64,1251.69 L1256.25,1257.32 L1250.86,1264.55 L1245.46,1265.38 L1240.06,1266.00 L1234.67,1282.08 L1229.27,1286.15 L1223.88,1296.14 L1218.48,1305.48 L1213.09,1312.50 L1207.69,1318.81 L1202.30,1330.23 L1196.90,1342.09 L1191.51,1346.34 L1186.12,1351.74 L1180.72,1359.85 L1175.32,1370.72 L1169.93,1375.35 L1164.53,1377.97 L1159.14,1381.90 L1153.74,1386.40 L1148.35,1391.12 L1142.95,1400.83 L1137.56,1404.72 L1132.16,1408.10 L1126.77,1414.01 L1121.38,1423.13 L1115.98,1434.55 L1110.58,1437.10 L1105.19,1440.90 L1099.79,1446.50 L1094.40,1452.98 L1089.00,1458.15 L1083.61,1453.85 L1078.21,1462.61 L1072.82,1471.27 Z" fill="#fa7c17" fill-opacity="0.25" stroke="#fa7c17" stroke-opacity="0.25" stroke-width="2" stroke-linejoin="round"/>
<path d="M1072.82,1469.27 L1078.21,1459.97 L1083.61,1450.55 L1089.00,1454.21 L1094.40,1448.39 L1099.79,1441.26 L1105.19,1435.02 L1110.58,1430.57 L1115.98,1427.37 L1121.38,1415.31 L1126.77,1405.54 L1132.16,1398.98 L1137.56,1394.96 L1142.95,1390.42 L1148.35,1380.06 L1153.74,1374.69 L1159.14,1369.55 L1164.53,1364.97 L1169.93,1361.70 L1175.32,1356.43 L1180.72,1344.91 L1186.12,1336.15 L1191.51,1330.10 L1196.90,1325.21 L1202.30,1312.71 L1207.69,1300.64 L1213.09,1293.68 L1218.48,1286.01 L1223.88,1276.02 L1229.27,1265.38 L1234.67,1260.67 L1240.06,1243.94 L1245.46,1242.68 L1250.86,1241.19 L1256.25,1233.32 L1261.64,1227.05 L1267.04,1220.45 L1272.43,1210.08 L1277.83,1201.60 L1283.22,1191.85 L1288.62,1180.68 L1294.01,1173.72 L1299.41,1168.43 L1304.81,1170.07 L1310.20,1170.24 L1315.60,1158.62 L1320.99,1152.82 L1326.38,1147.09 L1331.78,1138.79 L1337.17,1134.75 L1342.57,1128.91 L1347.96,1119.05" fill="none" stroke="#fa7c17" stroke-width="4.17" stroke-linejoin="round" stroke-linecap="round"/>
<line x1="175" y1="1474.00" x2="1403" y2="1474.00" stroke="#000" stroke-width="4.17"/>
<rect x="1068" y="79" width="8" height="427" fill="#ff0000"/>
<rect x="1068" y="573" width="8" height="427" fill="#ff0000"/>
<rect x="1068" y="1067" width="8" height="427" fill="#ff0000"/>
<rect x="550.2" y="112.5" width="67.6" height="23" fill="#2a2eec" fill-opacity="0.25" stroke="#2a2eec" stroke-opacity="0.25" stroke-width="2.5"/>
<line x1="550.3" y1="123.0" x2="617.8" y2="123.0" stroke="#2a2eec" stroke-width="4.17" stroke-linecap="round"/>
<circle cx="584.5" cy="173.3" r="5.6" fill="#000"/>
<rect x="550.2" y="211.5" width="67.6" height="23" fill="#fa7c17" fill-opacity="0.25" stroke="#fa7c17" stroke-opacity="0.25" stroke-width="2.5"/>
<line x1="550.3" y1="223.0" x2="617.8" y2="223.0" stroke="#fa7c17" stroke-width="4.17" stroke-linecap="round"/>
<rect x="550.2" y="261.0" width="67.6" height="23" fill="#2a2eec" fill-opacity="0.25" stroke="#2a2eec" stroke-opacity="0.25" stroke-width="2.5"/>
<g fill="#262626" font-family="Liberation Sans, sans-serif" style="font-kerning:none">
<text transform="translate(646.77,135.20) scale(1.0783,1) translate(-2.90,0)" font-size="35.32">Pre-intervention period</text>
<text transform="translate(645.37,184.70) scale(1.0571,1) translate(-1.67,0)" font-size="35.32">Observations</text>
<text transform="translate(645.37,234.20) scale(1.0754,1) translate(-1.79,0)" font-size="35.32">Counterfactual</text>
<text transform="translate(645.37,283.70) scale(1.0577,1) translate(-1.79,0)" font-size="35.32">Causal impact</text>
<text transform="translate(632.99,556.60) scale(1.0509,1) translate(-2.39,0)" font-size="47.09">Causal Impact</text>
<text transform="translate(499.09,1050.60) scale(1.0628,1) translate(-2.39,0)" font-size="47.09">Cumulative Causal Impact</text>
<text transform="translate(251.80,62.40) scale(1.0706,1) translate(-3.86,0)" font-size="47.09">Pre-intervention Bayesian</text>
<text transform="translate(840.20,62.40) scale(0.8132,1) translate(-1.45,0)" font-size="47.09" font-style="italic">R</text>
<text transform="translate(874.60,45.20) scale(1.0121,1) translate(-1.66,0)" font-size="32.96">2</text>
<text transform="translate(898.70,62.40) scale(1.1076,1) translate(-4.30,0)" font-size="47.09">: 0.52 (std = 0.035)</text>
<text transform="translate(107.20,451.49) scale(1.0252,1) translate(-1.57,0)" font-size="41.21">3.2</text>
<text transform="translate(107.20,356.76) scale(1.0403,1) translate(-1.57,0)" font-size="41.21">3.4</text>
<text transform="translate(107.20,262.03) scale(1.0470,1) translate(-1.57,0)" font-size="41.21">3.6</text>
<text transform="translate(107.20,167.30) scale(1.0427,1) translate(-1.57,0)" font-size="41.21">3.8</text>
<text transform="translate(75.77,929.40) scale(1.1188,1) translate(-2.03,0)" font-size="41.21">−0.2</text>
<text transform="translate(106.80,833.40) scale(1.0488,1) translate(-1.61,0)" font-size="41.21">0.0</text>
<text transform="translate(106.80,737.40) scale(1.0334,1) translate(-1.61,0)" font-size="41.21">0.2</text>
<text transform="translate(106.80,641.40) scale(1.0483,1) translate(-1.61,0)" font-size="41.21">0.4</text>
<text transform="translate(106.80,1488.50) scale(1.0488,1) translate(-1.61,0)" font-size="41.21">0.0</text>
<text transform="translate(107.09,1392.00) scale(1.0396,1) translate(-2.07,0)" font-size="41.21">2.5</text>
<text transform="translate(107.24,1295.50) scale(1.0415,1) translate(-1.65,0)" font-size="41.21">5.0</text>
<text transform="translate(107.43,1199.00) scale(1.0340,1) translate(-2.11,0)" font-size="41.21">7.5</text>
<text transform="translate(83.77,1102.50) scale(1.0568,1) translate(-3.14,0)" font-size="41.21">10.0</text>
<text transform="translate(220.20,1505.50) rotate(90) scale(1.0655,1) translate(-2.07,0)" font-size="41.21">2019</text>
<text transform="translate(502.20,1505.50) rotate(90) scale(1.0631,1) translate(-2.07,0)" font-size="41.21">2020</text>
<text transform="translate(783.20,1505.50) rotate(90) scale(1.0565,1) translate(-2.07,0)" font-size="41.21">2021</text>
<text transform="translate(1065.20,1505.50) rotate(90) scale(1.0538,1) translate(-2.07,0)" font-size="41.21">2022</text>
<text transform="translate(1346.20,1505.50) rotate(90) scale(1.0595,1) translate(-2.07,0)" font-size="41.21">2023</text>
<text transform="translate(83.00,477.10) rotate(-90) scale(1.0438,1) translate(-2.00,0)" font-size="44.15">Sales (thousands)</text>
<text transform="translate(51.30,971.10) rotate(-90) scale(1.0438,1) translate(-2.00,0)" font-size="44.15">Sales (thousands)</text>
<text transform="translate(58.20,1466.00) rotate(-90) scale(1.0438,1) translate(-2.00,0)" font-size="44.15">Sales (thousands)</text>
</g>
</svg>
</body></html>
